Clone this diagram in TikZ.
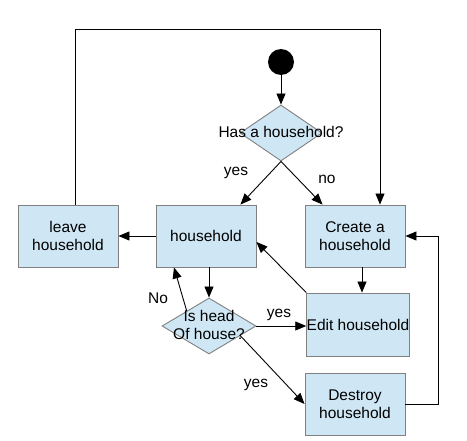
\documentclass[tikz,border=0pt]{standalone}
\usepackage{fontspec}
\setmainfont{Liberation Sans}
\usetikzlibrary{arrows.meta,shapes.geometric,calc}
\definecolor{boxfill}{RGB}{207,231,245}
\definecolor{boxline}{RGB}{128,128,128}
\begin{document}
\begin{tikzpicture}[x=1pt,y=-1pt,
  every node/.style={font=\fontsize{15.5}{17.8}\selectfont},
  box/.style={rectangle,draw=boxline,fill=boxfill,line width=0.9pt,minimum width=100pt,minimum height=62pt,align=center,inner sep=0pt},
  dia/.style={diamond,draw=boxline,fill=boxfill,line width=0.9pt,inner sep=0pt},
  txt/.style={align=center,inner sep=0pt},
  arr/.style={draw=black,line width=0.9pt,-{Triangle[length=11pt,width=9pt]}}]
\useasboundingbox (0,0) rectangle (467,441);
\fill[white] (0,0) rectangle (467,441);
% nodes
\node[circle,fill=black,minimum size=26pt,inner sep=0pt] (start) at (281,62) {};
\node[dia,minimum width=82pt,minimum height=56pt] (d1) at (281,133) {};
\node[txt] (d1t) at (281,132) {Has a household?};
\node[box] (lv) at (68,236) {leave\\household};
\node[box] (hh) at (206,236) {household};
\node[box] (cr) at (355,236) {Create a\\household};
\node[box,minimum height=63pt] (ed) at (358,324.5) {Edit household};
\node[box] (ds) at (355,404) {Destroy\\household};
\node[dia,minimum width=94pt,minimum height=56pt] (d2) at (209,326) {};
\node[txt] (d2t) at (209,325) {Is head\\Of house?};
% labels
\node[txt] (l1) at (236,173) {yes};
\node[txt] (l2) at (327,179) {no};
\node[txt] (l3) at (158,298) {No};
\node[txt] (l4) at (279,315) {yes};
\node[txt] (l5) at (256,385) {yes};
% connectors
\draw[arr] (start) -- (d1.north);
\draw[arr] (d1.south) -- ([xshift=-16pt]hh.north east);
\draw[arr] (d1.south) -- ([xshift=18pt]cr.north west);
\draw[arr] ([xshift=7pt]lv.north) -- ++(0,-175) -| ([xshift=25pt]cr.north);
\draw[arr] (hh.west) -- (lv.east);
\draw[arr] (hh.south -| d2.north) -- (d2.north);
\draw[arr] ($(d2.north)!0.47!(d2.west)$) -- ([xshift=-32pt]hh.south);
\draw[arr] (d2.east) -- (d2.east -| ed.west);
\draw[arr] ($(d2.east)!0.34!(d2.south)$) -- (ds.west);
\draw[arr] (ed.north west) -- ([yshift=-6pt]hh.east);
\draw[arr] ([xshift=7pt]cr.south) -- ([xshift=7pt]cr.south |- ed.north);
\draw[arr] (ds.east) -- ++(33,0) |- (cr.east);
\end{tikzpicture}
\end{document}
